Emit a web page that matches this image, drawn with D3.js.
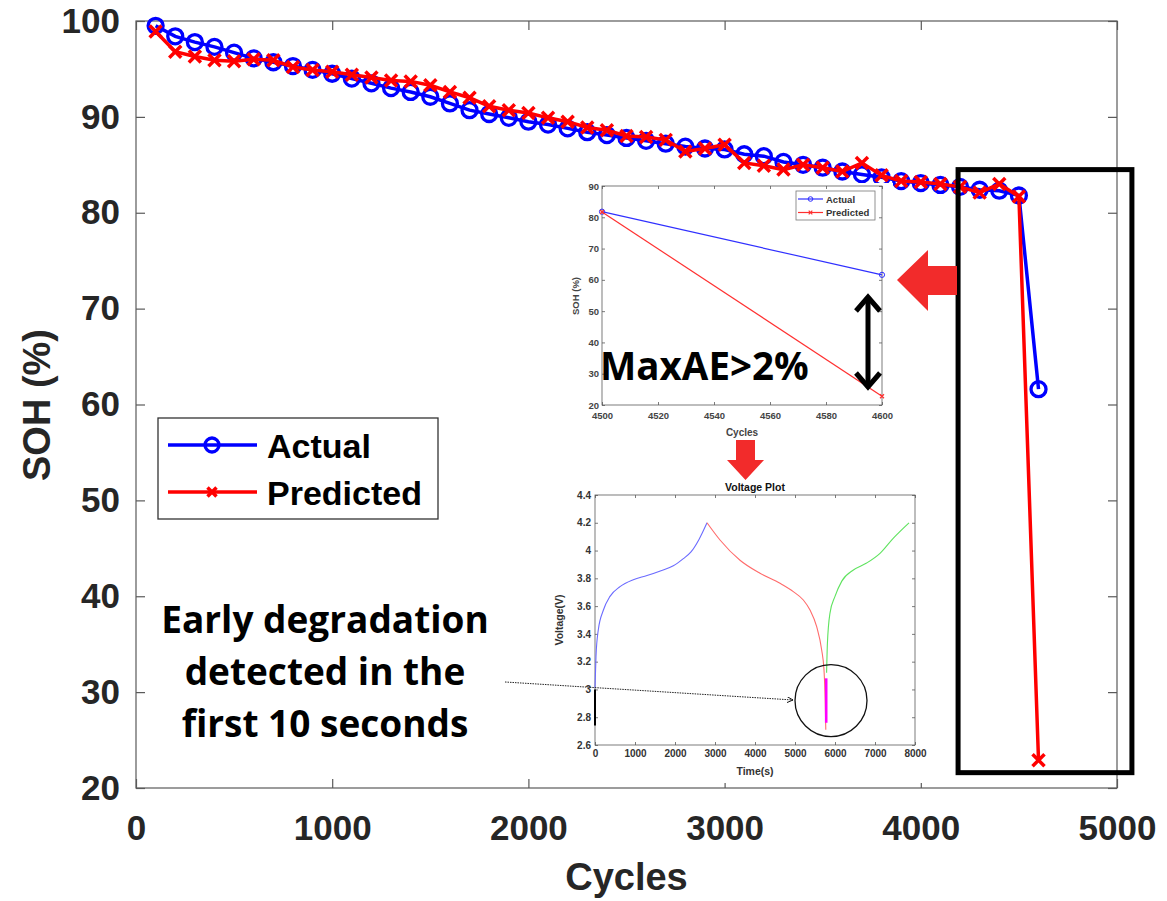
<!DOCTYPE html>
<html>
<head>
<meta charset="utf-8">
<script src="https://cdn.jsdelivr.net/npm/d3@7"></script>
<style>
  body { margin: 0; background: #fff; }
  svg { display: block; }
</style>
</head>
<body>
<svg width="1167" height="901"></svg>
<script>
'use strict';

// main SOH series
var cycles = [100, 200, 300, 400, 500, 600, 700, 800, 900, 1000,
    1100, 1200, 1300, 1400, 1500, 1600, 1700, 1800, 1900, 2000,
    2100, 2200, 2300, 2400, 2500, 2600, 2700, 2800, 2900, 3000,
    3100, 3200, 3300, 3400, 3500, 3600, 3700, 3800, 3900, 4000,
    4100, 4200, 4300, 4400, 4500, 4600];
var actualSOH = [99.5, 98.4, 97.8, 97.3, 96.7, 96.1, 95.7, 95.3, 94.9, 94.5,
    94.0, 93.5, 93.0, 92.6, 92.1, 91.4, 90.7, 90.3, 89.9, 89.5,
    89.2, 88.8, 88.4, 88.1, 87.8, 87.5, 87.2, 86.9, 86.7, 86.6,
    86.1, 85.9, 85.3, 85.0, 84.7, 84.3, 84.0, 83.7, 83.3, 83.1,
    82.9, 82.7, 82.4, 82.3, 81.8, 61.6];
var predictedSOH = [98.9, 96.8, 96.3, 95.9, 95.8, 96.0, 95.9, 95.2, 94.9, 94.7,
    94.4, 94.1, 93.8, 93.7, 93.3, 92.6, 92.0, 91.1, 90.7, 90.4,
    89.9, 89.5, 88.9, 88.6, 88.0, 87.9, 87.6, 86.4, 86.7, 87.1,
    85.2, 84.9, 84.5, 85.0, 84.7, 84.3, 85.2, 83.9, 83.3, 83.2,
    83.0, 82.7, 82.1, 83.0, 81.7, 22.9];
var xTicks = [0, 1000, 2000, 3000, 4000, 5000];
var yTicks = [20, 30, 40, 50, 60, 70, 80, 90, 100];
var seriesNames = ['Actual', 'Predicted'];

// zoomed inset (last two cycles)
var insetCycles = [4500, 4600];
var insetActual = [81.8, 61.6];
var insetPredicted = [81.7, 22.8];
var insetXTicks = [4500, 4520, 4540, 4560, 4580, 4600];
var insetYTicks = [20, 30, 40, 50, 60, 70, 80, 90];

// voltage inset
var chargeTime = [0, 25, 83, 208, 375, 625, 958, 1300, 1650, 1958, 2200, 2400, 2600, 2800];
var chargeVolt = [3.01, 3.24, 3.43, 3.57, 3.67, 3.74, 3.79, 3.82, 3.855, 3.89, 3.94, 3.99, 4.08, 4.2];
var dischargeTime = [2800, 3125, 3625, 4125, 4625, 4958, 5208, 5375, 5542, 5667, 5725, 5755, 5770];
var dischargeVolt = [4.2, 4.076, 3.93, 3.836, 3.764, 3.704, 3.644, 3.572, 3.452, 3.284, 3.14, 2.92, 2.71];
var rechargeTime = [5790, 5810, 5875, 6000, 6170, 6460, 6790, 7125, 7460, 7850];
var rechargeVolt = [3.12, 3.33, 3.55, 3.67, 3.78, 3.86, 3.91, 3.98, 4.09, 4.2];
var pulseTime = [5780, 5780];
var pulseVolt = [3.08, 2.76];
var startTime = [0, 0];
var startVolt = [3.0, 2.74];
var voltXTicks = [0, 1000, 2000, 3000, 4000, 5000, 6000, 7000, 8000];
var voltYTicks = ['2.6', '2.8', '3', '3.2', '3.4', '3.6', '3.8', '4', '4.2', '4.4'];

var BLUE = '#0000ff';
var RED = '#ff0000';
var AXIS_GREY = '#5a5a5a';
var LABEL_FONT = "'Liberation Sans', Arial, sans-serif";
var NOTE_FONT = "'Open Sans', 'Noto Sans', sans-serif";

var svg = d3.select('svg');

function zip(xs, ys) {
    return xs.map(function(x, i) { return [x, ys[i]]; });
}

function xMarkPath(s) {
    return 'M' + (-s) + ',' + (-s) + 'L' + s + ',' + s + 'M' + (-s) + ',' + s + 'L' + s + ',' + (-s);
}

// draws a boxed MATLAB-style axes frame with inward ticks on all four sides
function drawFrame(g, x, y, opt) {
    var x0 = x.range()[0], x1 = x.range()[1];
    var y0 = y.range()[0], y1 = y.range()[1];

    g.append('rect')
        .attr('x', x0).attr('y', y1)
        .attr('width', x1 - x0).attr('height', y0 - y1)
        .attr('fill', 'none')
        .attr('stroke', AXIS_GREY)
        .attr('stroke-width', opt.frameWidth);

    var bottom = g.append('g')
        .attr('transform', 'translate(0,' + y0 + ')')
        .call(d3.axisBottom(x).tickValues(opt.xTicks).tickSizeInner(-opt.tick).tickSizeOuter(0)
            .tickPadding(opt.xPad).tickFormat(opt.xFormat || d3.format('')));
    var left = g.append('g')
        .attr('transform', 'translate(' + x0 + ',0)')
        .call(d3.axisLeft(y).tickValues(opt.yTicks).tickSizeInner(-opt.tick).tickSizeOuter(0)
            .tickPadding(opt.yPad).tickFormat(opt.yFormat || d3.format('')));
    var top = g.append('g')
        .attr('transform', 'translate(0,' + y1 + ')')
        .call(d3.axisTop(x).tickValues(opt.xTicks).tickSizeInner(-opt.tick).tickSizeOuter(0).tickFormat(''));
    var right = g.append('g')
        .attr('transform', 'translate(' + x1 + ',0)')
        .call(d3.axisRight(y).tickValues(opt.yTicks).tickSizeInner(-opt.tick).tickSizeOuter(0).tickFormat(''));

    [bottom, left, top, right].forEach(function(a) {
        a.select('.domain').remove();
        a.selectAll('line').attr('stroke', AXIS_GREY).attr('stroke-width', opt.frameWidth);
        a.selectAll('text')
            .attr('fill', opt.labelColor)
            .style('font-family', LABEL_FONT)
            .style('font-weight', 'bold')
            .style('font-size', opt.fontSize + 'px');
    });
}

function generateMainChart() {
    var x = d3.scaleLinear().domain([0, 5000]).range([136, 1117]);
    var y = d3.scaleLinear().domain([20, 100]).range([788, 21]);
    var g = svg.append('g').attr('class', 'main');

    drawFrame(g, x, y, {
        xTicks: xTicks, yTicks: yTicks, tick: 9, xPad: 27, yPad: 16,
        frameWidth: 1.2, fontSize: 35, labelColor: '#262626'
    });

    g.append('text')
        .attr('x', (x.range()[0] + x.range()[1]) / 2).attr('y', 890)
        .attr('text-anchor', 'middle')
        .attr('fill', '#262626')
        .style('font', 'bold 38px ' + LABEL_FONT)
        .text('Cycles');
    g.append('text')
        .attr('transform', 'translate(50,405) rotate(-90)')
        .attr('text-anchor', 'middle')
        .attr('fill', '#262626')
        .style('font', 'bold 38px ' + LABEL_FONT)
        .text('SOH (%)');

    var line = d3.line()
        .x(function(d) { return x(d[0]); })
        .y(function(d) { return y(d[1]); });

    var actual = zip(cycles, actualSOH);
    var predicted = zip(cycles, predictedSOH);

    g.append('path').datum(actual)
        .attr('d', line).attr('fill', 'none')
        .attr('stroke', BLUE).attr('stroke-width', 3.5);
    g.selectAll('circle.actual').data(actual).enter()
        .append('circle').attr('class', 'actual')
        .attr('cx', function(d) { return x(d[0]); })
        .attr('cy', function(d) { return y(d[1]); })
        .attr('r', 7.5)
        .attr('fill', 'none').attr('stroke', BLUE).attr('stroke-width', 3.3);

    g.append('path').datum(predicted)
        .attr('d', line).attr('fill', 'none')
        .attr('stroke', RED).attr('stroke-width', 3.5);
    g.selectAll('path.predicted').data(predicted).enter()
        .append('path').attr('class', 'predicted')
        .attr('transform', function(d) { return 'translate(' + x(d[0]) + ',' + y(d[1]) + ')'; })
        .attr('d', xMarkPath(6))
        .attr('fill', 'none').attr('stroke', RED).attr('stroke-width', 3.5);

    // highlight box around the last cycles
    g.append('rect')
        .attr('x', x(4190)).attr('y', y(84.5))
        .attr('width', x(5076) - x(4190)).attr('height', y(21.6) - y(84.5))
        .attr('fill', 'none').attr('stroke', '#000').attr('stroke-width', 5);

    // legend
    var leg = g.append('g').attr('transform', 'translate(158,418)');
    leg.append('rect')
        .attr('width', 280).attr('height', 101)
        .attr('fill', '#fff').attr('stroke', '#333').attr('stroke-width', 1.3);
    seriesNames.forEach(function(name, i) {
        var ly = 27 + i * 47;
        var color = i === 0 ? BLUE : RED;
        leg.append('line')
            .attr('x1', 10).attr('x2', 99).attr('y1', ly).attr('y2', ly)
            .attr('stroke', color).attr('stroke-width', 3.5);
        if (i === 0) {
            leg.append('circle').attr('cx', 54).attr('cy', ly).attr('r', 7)
                .attr('fill', 'none').attr('stroke', color).attr('stroke-width', 3.3);
        } else {
            leg.append('path').attr('transform', 'translate(54,' + ly + ')')
                .attr('d', xMarkPath(4.5))
                .attr('fill', 'none').attr('stroke', color).attr('stroke-width', 3.5);
        }
        leg.append('text')
            .attr('x', 109).attr('y', ly + 13)
            .attr('fill', '#000')
            .style('font', 'bold 34px ' + LABEL_FONT)
            .text(name);
    });
}

function generateSohInset() {
    var g = svg.append('g').attr('class', 'inset-soh');
    g.append('rect')
        .attr('x', 558).attr('y', 183).attr('width', 335).attr('height', 257)
        .attr('fill', '#fff');

    var x = d3.scaleLinear().domain([4500, 4600]).range([602, 882]);
    var y = d3.scaleLinear().domain([20, 90]).range([405, 186]);

    drawFrame(g, x, y, {
        xTicks: insetXTicks, yTicks: insetYTicks, tick: 3, xPad: 7, yPad: 3,
        frameWidth: 0.8, fontSize: 9.5, labelColor: '#444'
    });

    g.append('text')
        .attr('x', 742).attr('y', 436)
        .attr('text-anchor', 'middle').attr('fill', '#444')
        .style('font', 'bold 10px ' + LABEL_FONT)
        .text('Cycles');
    g.append('text')
        .attr('transform', 'translate(579,296) rotate(-90)')
        .attr('text-anchor', 'middle').attr('fill', '#444')
        .style('font', 'bold 9.5px ' + LABEL_FONT)
        .text('SOH (%)');

    var line = d3.line()
        .x(function(d) { return x(d[0]); })
        .y(function(d) { return y(d[1]); });
    var actual = zip(insetCycles, insetActual);
    var predicted = zip(insetCycles, insetPredicted);

    g.append('path').datum(actual).attr('d', line)
        .attr('fill', 'none').attr('stroke', '#3030ff').attr('stroke-width', 1.2);
    g.selectAll('circle.ia').data(actual).enter().append('circle')
        .attr('cx', function(d) { return x(d[0]); })
        .attr('cy', function(d) { return y(d[1]); })
        .attr('r', 2.6).attr('fill', 'none').attr('stroke', '#3030ff').attr('stroke-width', 1);
    g.append('path').datum(predicted).attr('d', line)
        .attr('fill', 'none').attr('stroke', '#ff3030').attr('stroke-width', 1.2);
    g.selectAll('path.ip').data(predicted).enter().append('path')
        .attr('transform', function(d) { return 'translate(' + x(d[0]) + ',' + y(d[1]) + ')'; })
        .attr('d', xMarkPath(2)).attr('fill', 'none').attr('stroke', '#ff3030').attr('stroke-width', 1.2);

    var leg = g.append('g').attr('transform', 'translate(796,191)');
    leg.append('rect').attr('width', 79).attr('height', 29)
        .attr('fill', '#fff').attr('stroke', '#777').attr('stroke-width', 0.8);
    seriesNames.forEach(function(name, i) {
        var ly = 8 + i * 13.5;
        var color = i === 0 ? '#3030ff' : '#ff3030';
        leg.append('line').attr('x1', 2).attr('x2', 27).attr('y1', ly).attr('y2', ly)
            .attr('stroke', color).attr('stroke-width', 1.2);
        if (i === 0) {
            leg.append('circle').attr('cx', 14.5).attr('cy', ly).attr('r', 2.3)
                .attr('fill', 'none').attr('stroke', color).attr('stroke-width', 1);
        } else {
            leg.append('path').attr('transform', 'translate(14.5,' + ly + ')')
                .attr('d', xMarkPath(1.8)).attr('fill', 'none').attr('stroke', color).attr('stroke-width', 1.2);
        }
        leg.append('text').attr('x', 30).attr('y', ly + 3.5)
            .attr('fill', '#333')
            .style('font', 'bold 9.5px ' + LABEL_FONT)
            .text(name);
    });
}

function generateVoltageInset() {
    var g = svg.append('g').attr('class', 'inset-volt');
    g.append('rect')
        .attr('x', 548).attr('y', 478).attr('width', 378).attr('height', 305)
        .attr('fill', '#fff');

    var x = d3.scaleLinear().domain([0, 8000]).range([595, 915]);
    var y = d3.scaleLinear().domain([2.6, 4.4]).range([745, 495]);

    drawFrame(g, x, y, {
        xTicks: voltXTicks, yTicks: voltYTicks.map(Number), tick: 3, xPad: 5, yPad: 4,
        frameWidth: 0.8, fontSize: 10, labelColor: '#333',
        yFormat: function(d) { return voltYTicks[voltYTicks.map(Number).indexOf(d)]; }
    });

    g.append('text')
        .attr('x', 755).attr('y', 491)
        .attr('text-anchor', 'middle').attr('fill', '#111')
        .style('font', 'bold 10.5px ' + LABEL_FONT)
        .text('Voltage Plot');
    g.append('text')
        .attr('x', 755).attr('y', 775)
        .attr('text-anchor', 'middle').attr('fill', '#333')
        .style('font', 'bold 10.5px ' + LABEL_FONT)
        .text('Time(s)');
    g.append('text')
        .attr('transform', 'translate(563,620) rotate(-90)')
        .attr('text-anchor', 'middle').attr('fill', '#333')
        .style('font', 'bold 10.5px ' + LABEL_FONT)
        .text('Voltage(V)');

    var curve = d3.line()
        .x(function(d) { return x(d[0]); })
        .y(function(d) { return y(d[1]); })
        .curve(d3.curveMonotoneX);
    var straight = d3.line()
        .x(function(d) { return x(d[0]); })
        .y(function(d) { return y(d[1]); });

    g.append('path').datum(zip(chargeTime, chargeVolt)).attr('d', curve)
        .attr('fill', 'none').attr('stroke', '#6b6bff').attr('stroke-width', 1.1);
    g.append('path').datum(zip(dischargeTime, dischargeVolt)).attr('d', curve)
        .attr('fill', 'none').attr('stroke', '#ff6b6b').attr('stroke-width', 1.1);
    g.append('path').datum(zip(rechargeTime, rechargeVolt)).attr('d', curve)
        .attr('fill', 'none').attr('stroke', '#5fe35f').attr('stroke-width', 1.1);
    g.append('path').datum(zip(pulseTime, pulseVolt)).attr('d', straight)
        .attr('fill', 'none').attr('stroke', '#ff00ff').attr('stroke-width', 2.6);
    g.append('path').datum(zip(startTime, startVolt)).attr('d', straight)
        .attr('fill', 'none').attr('stroke', '#000').attr('stroke-width', 2);

    // circle around the early-degradation pulse
    g.append('circle')
        .attr('cx', x(5900)).attr('cy', y(2.92)).attr('r', 36)
        .attr('fill', 'none').attr('stroke', '#111').attr('stroke-width', 1.3);
}

function generateAnnotations() {
    var defs = svg.append('defs');
    defs.append('marker')
        .attr('id', 'dot-head')
        .attr('viewBox', '0 0 10 10').attr('refX', 10).attr('refY', 5)
        .attr('markerWidth', 6).attr('markerHeight', 6).attr('orient', 'auto')
        .append('path').attr('d', 'M0,0L10,5L0,10').attr('fill', 'none').attr('stroke', '#000').attr('stroke-width', 1.5);

    var g = svg.append('g').attr('class', 'notes');

    // big red arrow pointing at the inset
    g.append('path')
        .attr('d', 'M897,280 L928,250 L928,266 L957,266 L957,295 L928,295 L928,311 Z')
        .attr('fill', '#f22b2b');
    // red arrow down to the voltage plot
    g.append('path')
        .attr('d', 'M736,440 L755,440 L755,460 L764,460 L745.5,480 L727,460 L736,460 Z')
        .attr('fill', '#f22b2b');

    // double-headed error arrow
    g.append('line').attr('x1', 868).attr('x2', 868).attr('y1', 298).attr('y2', 385)
        .attr('stroke', '#000').attr('stroke-width', 5);
    g.append('path').attr('d', 'M856,311 L868,297 L880,311 M856,373 L868,387 L880,373')
        .attr('fill', 'none').attr('stroke', '#000').attr('stroke-width', 5)
        .attr('stroke-linejoin', 'miter');

    g.append('text')
        .attr('x', 600).attr('y', 380)
        .attr('fill', '#000')
        .style('font', 'bold 38.5px ' + NOTE_FONT)
        .text('MaxAE>2%');

    var lines = ['Early degradation', 'detected in the', 'first 10 seconds'];
    g.selectAll('text.early').data(lines).enter()
        .append('text').attr('class', 'early')
        .attr('x', 325)
        .attr('y', function(d, i) { return 633 + i * 52; })
        .attr('text-anchor', 'middle')
        .attr('fill', '#000')
        .style('font', 'bold 37px ' + NOTE_FONT)
        .text(function(d) { return d; });

    // dotted pointer into the circled pulse
    g.append('line')
        .attr('x1', 505).attr('y1', 682).attr('x2', 793).attr('y2', 700)
        .attr('stroke', '#222').attr('stroke-width', 1)
        .attr('stroke-dasharray', '1.5,1')
        .attr('marker-end', 'url(#dot-head)');
}

generateMainChart();
generateSohInset();
generateVoltageInset();
generateAnnotations();
</script>
</body>
</html>
